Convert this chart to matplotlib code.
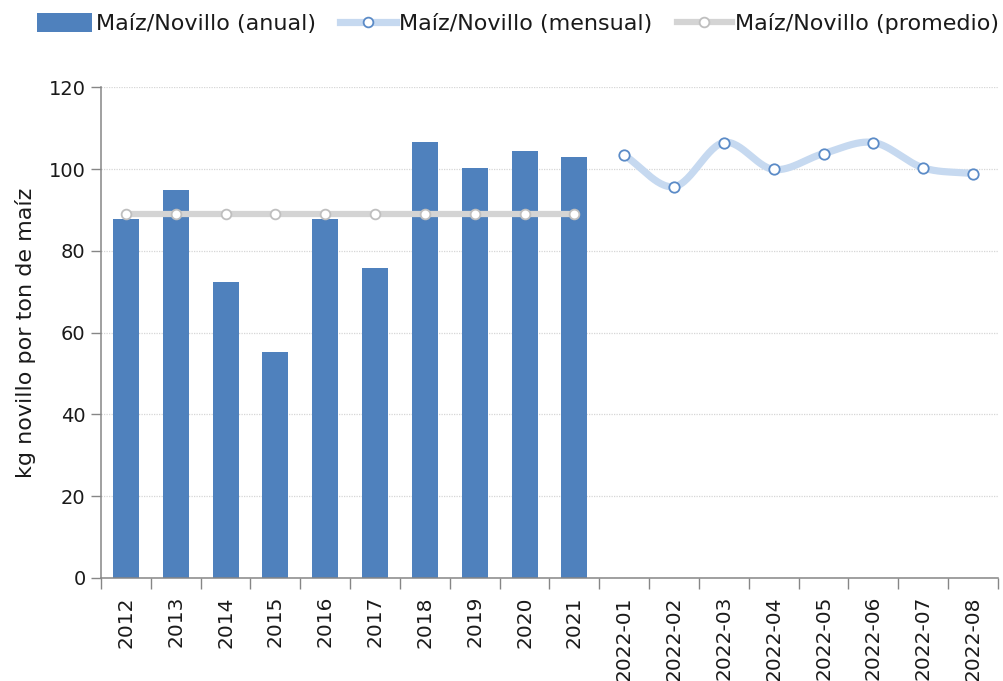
import numpy as np
import matplotlib.pyplot as plt
from matplotlib.lines import Line2D
from matplotlib.patches import Patch

# Annual ratio (kg of steer per ton of maize)
years = ['2012', '2013', '2014', '2015', '2016', '2017', '2018', '2019', '2020', '2021']
anual = [87.7, 94.8, 72.5, 55.3, 87.7, 75.9, 106.6, 100.3, 104.4, 103.0]

# Monthly values for 2022
months = ['2022-01', '2022-02', '2022-03', '2022-04', '2022-05', '2022-06', '2022-07', '2022-08']
mensual = [103.4, 95.7, 106.5, 99.9, 103.8, 106.5, 100.3, 98.9]

# Average of the annual period
promedio = [89.0] * len(years)

labels = years + months

bar_color = '#4F81BD'
month_color = '#C6D9F0'
avg_color = '#D4D4D4'
axis_color = '#868686'


def catmull_rom(x, y, n=30):
    # smooth curve through the points, like a spreadsheet "smoothed line"
    x = np.asarray(x, float)
    y = np.asarray(y, float)
    px = np.concatenate([[2 * x[0] - x[1]], x, [2 * x[-1] - x[-2]]])
    py = np.concatenate([[2 * y[0] - y[1]], y, [2 * y[-1] - y[-2]]])
    xs, ys = [], []
    t = np.linspace(0, 1, n, endpoint=False)
    for i in range(1, len(px) - 2):
        for p, out in ((px, xs), (py, ys)):
            p0, p1, p2, p3 = p[i - 1], p[i], p[i + 1], p[i + 2]
            out.extend(0.5 * (2 * p1 + (-p0 + p2) * t
                              + (2 * p0 - 5 * p1 + 4 * p2 - p3) * t ** 2
                              + (-p0 + 3 * p1 - 3 * p2 + p3) * t ** 3))
    xs.append(x[-1])
    ys.append(y[-1])
    return np.array(xs), np.array(ys)


plt.rcParams['font.family'] = 'DejaVu Sans'

fig = plt.figure(figsize=(10.04, 6.81), dpi=100)
ax = fig.add_axes([0.1006, 0.1513, 0.8934, 0.7205])

x_years = np.arange(len(years))
x_months = np.arange(len(years), len(labels))

ax.bar(x_years, anual, width=0.52, color=bar_color, zorder=2)

ax.plot(x_years, promedio, color=avg_color, linewidth=4.5, solid_capstyle='butt', zorder=3)
ax.plot(x_years, promedio, linestyle='none', marker='o', markersize=7,
        markerfacecolor='white', markeredgecolor='#BFBFBF', markeredgewidth=1.3, zorder=4)

sx, sy = catmull_rom(x_months, mensual)
ax.plot(sx, sy, color=month_color, linewidth=5.2, solid_capstyle='round', zorder=3)
ax.plot(x_months, mensual, linestyle='none', marker='o', markersize=7.5,
        markerfacecolor='white', markeredgecolor='#5B8BC7', markeredgewidth=1.3, zorder=4)

ax.set_xlim(-0.5, len(labels) - 0.5)
ax.set_ylim(0, 120)
ax.set_yticks(np.arange(0, 121, 20))
ax.yaxis.grid(True, color='#D6D6D6', linestyle=(0, (1, 1)), linewidth=0.9, zorder=0)
ax.set_axisbelow(True)

ax.set_xticks(np.arange(len(labels)))
ax.set_xticklabels(labels, rotation=90, fontsize=14.5, color='#1A1A1A')
ax.set_xticks(np.arange(-0.5, len(labels)), minor=True)
ax.tick_params(axis='x', which='major', length=0, pad=13)
ax.tick_params(axis='x', which='minor', length=8, color=axis_color, width=1)
ax.tick_params(axis='y', length=7, color=axis_color, width=1, labelsize=14, labelcolor='#1A1A1A', pad=4)

for side in ('top', 'right'):
    ax.spines[side].set_visible(False)
for side in ('left', 'bottom'):
    ax.spines[side].set_color(axis_color)
    ax.spines[side].set_linewidth(1.1)

ax.set_ylabel('kg novillo por ton de maíz', fontsize=16, color='#1A1A1A', labelpad=9)

handles = [
    Patch(facecolor=bar_color, edgecolor='none'),
    Line2D([], [], color=month_color, linewidth=5.2, marker='o', markersize=7,
           markerfacecolor='white', markeredgecolor='#5B8BC7', markeredgewidth=1.3),
    Line2D([], [], color=avg_color, linewidth=4.5, marker='o', markersize=7,
           markerfacecolor='white', markeredgecolor='#BFBFBF', markeredgewidth=1.3),
]
fig.legend(handles, ['Maíz/Novillo (anual)', 'Maíz/Novillo (mensual)', 'Maíz/Novillo (promedio)'],
           loc='center', bbox_to_anchor=(0.516, 0.965), ncol=3, frameon=False,
           fontsize=16, handlelength=2.5, handleheight=0.9, handletextpad=0.15, columnspacing=1.1,
           labelcolor='#1A1A1A')

fig.savefig('out.png', dpi=100)
